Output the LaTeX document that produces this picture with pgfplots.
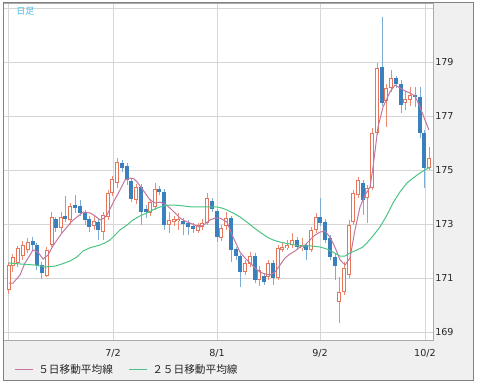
\documentclass[border=0pt]{standalone}
\usepackage{pgfplots}
\pgfplotsset{compat=1.18}
\usepackage{pgfplotstable}
\usepackage{fontspec}
\setmainfont{DejaVu Sans}
\newfontfamily\cjk{Noto Sans CJK JP}

\definecolor{upc}{RGB}{231,115,88}
\definecolor{upw}{RGB}{236,140,115}
\definecolor{dnc}{RGB}{58,128,188}
\definecolor{dnw}{RGB}{125,172,212}
\definecolor{maf}{RGB}{198,118,158}
\definecolor{mas}{RGB}{76,196,132}
\definecolor{gridc}{RGB}{214,214,214}
\definecolor{panel}{RGB}{240,240,240}
\definecolor{framec}{RGB}{130,130,130}
\definecolor{borderc}{RGB}{170,170,170}
\definecolor{titlec}{RGB}{70,190,235}

% rising candles (x  open  high  low  close)
\pgfplotstableread{
x o h l c
9 170.56 171.59 170.41 171.48
13 171.44 171.89 171.22 171.78
18 171.56 172.19 171.41 172.11
23 171.81 172.37 171.67 172.22
28 172.04 172.48 171.93 172.33
47 171.07 172.15 171.04 172.04
52 172.22 173.44 172.15 173.26
61 172.85 173.44 172.67 173.26
70 173.15 173.78 172.96 173.67
94 172.93 173.33 172.78 173.11
103 172.70 173.44 172.41 173.33
108 173.26 174.26 173.15 174.15
112 174.15 174.78 174.04 174.67
117 174.52 175.44 174.33 175.30
136 173.89 174.48 173.74 174.37
150 173.41 173.93 173.30 173.81
155 173.63 174.52 173.52 174.30
169 172.96 173.44 172.67 173.15
174 173.07 173.30 172.93 173.19
178 173.11 173.41 172.78 173.19
198 172.74 173.04 172.67 172.96
202 172.89 173.19 172.78 173.04
207 173.04 174.15 172.96 173.96
221 172.48 172.96 172.37 172.85
226 172.93 173.44 172.78 173.22
245 171.22 171.67 171.11 171.56
250 171.52 171.96 171.41 171.81
259 170.93 171.44 170.70 171.30
268 171.04 171.67 170.93 171.56
278 171.00 172.22 170.93 172.11
282 172.04 172.33 171.96 172.15
287 172.11 172.41 172.04 172.22
292 172.22 172.67 172.11 172.41
302 172.11 172.48 172.00 172.22
311 172.04 172.89 171.96 172.78
316 172.78 173.41 172.67 173.26
339 170.11 171.04 169.33 170.48
344 170.48 171.59 170.37 171.37
349 171.11 173.15 171.00 172.96
353 173.07 174.26 172.96 174.15
358 174.07 174.74 173.96 174.63
367 173.96 174.44 173.04 174.33
372 174.33 176.56 174.26 176.37
377 176.37 178.96 176.30 178.78
386 177.56 178.19 176.59 178.04
391 178.04 178.70 177.89 178.41
405 177.48 177.93 177.22 177.63
410 177.59 178.07 177.37 177.78
429 175.07 175.85 175.00 175.44
}\upT

% falling candles (x  open  high  low  close)
\pgfplotstableread{
x o h l c
33 172.37 172.52 172.04 172.22
37 172.22 172.30 171.30 171.48
42 171.48 171.59 170.96 171.19
56 173.19 173.26 172.70 172.85
65 173.30 174.04 173.07 173.19
75 173.70 174.07 173.41 173.59
80 173.67 173.89 173.30 173.41
85 173.41 173.52 172.96 173.15
89 173.19 173.30 172.70 172.89
98 173.07 173.19 172.41 172.78
122 175.26 175.37 174.93 175.07
127 175.15 175.26 174.44 174.63
131 174.59 174.70 173.81 173.93
141 174.37 174.48 172.96 173.44
146 173.56 173.70 173.22 173.44
159 174.30 174.41 174.07 174.19
164 174.19 174.30 172.78 172.96
183 173.11 173.22 172.59 173.00
188 173.04 173.15 172.59 172.89
193 172.93 173.04 172.67 172.81
212 173.85 173.96 173.44 173.56
217 173.48 173.56 172.33 172.52
231 173.22 173.30 171.59 172.04
236 172.07 172.15 171.67 171.81
240 171.81 171.89 170.67 171.22
255 171.81 171.93 170.81 170.93
264 171.07 171.19 170.74 170.85
273 171.56 171.67 170.74 171.00
297 172.41 172.52 172.04 172.15
306 172.22 172.30 171.67 172.04
320 173.26 173.96 172.93 173.04
325 173.07 173.19 172.30 172.41
330 172.48 172.59 171.67 171.78
335 171.78 171.89 170.93 171.44
363 174.52 174.63 173.33 173.89
382 178.81 180.67 177.37 177.48
396 178.41 178.48 178.04 178.19
401 178.19 178.33 177.11 177.41
415 177.78 178.07 177.33 177.70
420 177.70 178.07 176.19 176.37
424 176.37 176.48 174.33 175.07
}\dnT

% 5-day moving average
\pgfplotstableread{
x y
9 170.81
13 170.81
20 171.11
25 171.56
30 171.85
33 172.04
38 171.96
43 171.70
48 171.85
53 172.19
57 172.41
62 172.67
67 172.89
72 173.11
77 173.26
83 173.44
90 173.41
95 173.30
100 173.15
104 173.22
107 173.33
113 173.78
120 174.26
125 174.63
130 174.70
134 174.67
137 174.56
143 174.26
150 173.89
155 173.78
160 173.81
165 173.74
170 173.59
175 173.41
180 173.22
185 173.11
190 173.04
195 172.96
200 172.89
205 173.00
210 173.15
215 173.22
220 173.22
227 173.07
233 172.52
240 171.96
245 171.74
250 171.56
255 171.37
260 171.22
265 171.15
270 171.11
275 171.22
280 171.48
285 171.74
290 171.89
295 172.00
300 172.15
305 172.22
310 172.41
315 172.59
320 172.70
325 172.74
329 172.56
333 172.30
337 171.96
340 171.67
345 171.48
350 171.74
355 172.78
360 173.63
365 174.07
370 174.37
373 175.10
378 176.59
383 177.33
390 177.89
395 178.15
400 178.04
405 177.93
410 177.85
415 177.74
420 177.33
425 176.85
429 176.48
}\maFive

% 25-day moving average
\pgfplotstableread{
x y
8 171.56
20 171.52
35 171.48
45 171.41
55 171.44
62 171.52
70 171.63
77 171.78
83 172.00
90 172.12
100 172.22
105 172.30
110 172.41
115 172.59
120 172.78
127 172.96
133 173.15
140 173.30
147 173.41
155 173.56
160 173.63
167 173.70
175 173.70
183 173.67
192 173.63
200 173.63
210 173.63
217 173.63
222 173.59
227 173.52
233 173.41
240 173.26
247 173.07
253 172.89
260 172.70
267 172.52
273 172.41
280 172.33
290 172.26
300 172.19
310 172.19
320 172.15
327 172.07
333 171.96
340 171.81
345 171.81
350 171.93
357 172.04
363 172.15
367 172.30
373 172.56
380 172.89
387 173.33
393 173.78
400 174.19
407 174.52
413 174.70
420 174.89
425 175.00
430 175.11
}\maTwentyFive

\begin{document}
\begin{tikzpicture}
\path[use as bounding box] (-2.25pt,-34.5pt) rectangle (356.25pt,255pt);
\fill[panel] (0pt,-30pt) rectangle (352.5pt,252.75pt);
\begin{axis}[
  at={(0pt,0pt)}, anchor=south west,
  scale only axis, width=322.5pt, height=252.75pt,
  xmin=3, xmax=433, ymin=168.7037, ymax=181.1852,
  xtick={8,113,217,320,425}, xticklabels={,7/2,8/1,9/2,10/2},
  ytick={169,171,173,175,177,179,181},
  yticklabels={169,171,173,175,177,179,},
  yticklabel pos=right,
  major tick length=0pt, tick style={draw=none},
  grid=major, major grid style={draw=gridc, line width=0.6pt},
  axis line style={draw=borderc, line width=0.6pt},
  axis background/.style={fill=white},
  ticklabel style={font=\fontsize{7.2pt}{8pt}\selectfont, text=black!85},
  xticklabel style={anchor=base, yshift=-12pt, inner sep=0pt},
  yticklabel style={anchor=west, xshift=1.5pt, inner sep=0pt},
]
% wicks
\addplot[draw=none, mark=none, forget plot,
  error bars/.cd, y dir=both, y explicit, error mark=none,
  error bar style={draw=upw, line width=0.75pt}]
  table[x=x, y expr={(\thisrow{h}+\thisrow{l})/2}, y error expr={(\thisrow{h}-\thisrow{l})/2}] {\upT};
\addplot[draw=none, mark=none, forget plot,
  error bars/.cd, y dir=both, y explicit, error mark=none,
  error bar style={draw=dnw, line width=0.75pt}]
  table[x=x, y expr={(\thisrow{h}+\thisrow{l})/2}, y error expr={(\thisrow{h}-\thisrow{l})/2}] {\dnT};
% bodies
\addplot[draw=none, mark=none, forget plot,
  error bars/.cd, y dir=both, y explicit, error mark=none,
  error bar style={draw=upc, line width=3pt}]
  table[x=x, y expr={(\thisrow{o}+\thisrow{c})/2}, y error expr={max(abs(\thisrow{c}-\thisrow{o})/2,0.02)}] {\upT};
\addplot[draw=none, mark=none, forget plot,
  error bars/.cd, y dir=both, y explicit, error mark=none,
  error bar style={draw=white, line width=1.5pt}]
  table[x=x, y expr={(\thisrow{o}+\thisrow{c})/2}, y error expr={max(abs(\thisrow{c}-\thisrow{o})/2-0.037,0)}] {\upT};
\addplot[draw=none, mark=none, forget plot,
  error bars/.cd, y dir=both, y explicit, error mark=none,
  error bar style={draw=dnc, line width=3pt}]
  table[x=x, y expr={(\thisrow{o}+\thisrow{c})/2}, y error expr={max(abs(\thisrow{c}-\thisrow{o})/2,0.02)}] {\dnT};
% moving averages
\addplot[draw=maf, line width=0.75pt, mark=none] table[x=x, y=y] {\maFive};
\addplot[draw=mas, line width=0.75pt, mark=none] table[x=x, y=y] {\maTwentyFive};
\end{axis}
\draw[framec, line width=0.75pt] (0pt,-30pt) rectangle (352.5pt,252.75pt);
\node[anchor=west, inner sep=0pt, text=titlec, font=\cjk\fontsize{6.75pt}{7pt}\selectfont] at (9.75pt,246.75pt) {日足};
% legend
\draw[maf, line width=0.8pt] (9pt,-22.125pt) -- (22.5pt,-22.125pt);
\node[anchor=west, inner sep=0pt, text=black!85, font=\cjk\fontsize{8pt}{9pt}\selectfont] at (26.25pt,-22.125pt) {５日移動平均線};
\draw[mas, line width=0.8pt] (94.5pt,-22.125pt) -- (108pt,-22.125pt);
\node[anchor=west, inner sep=0pt, text=black!85, font=\cjk\fontsize{8pt}{9pt}\selectfont] at (111.75pt,-22.125pt) {２５日移動平均線};
\end{tikzpicture}
\end{document}
